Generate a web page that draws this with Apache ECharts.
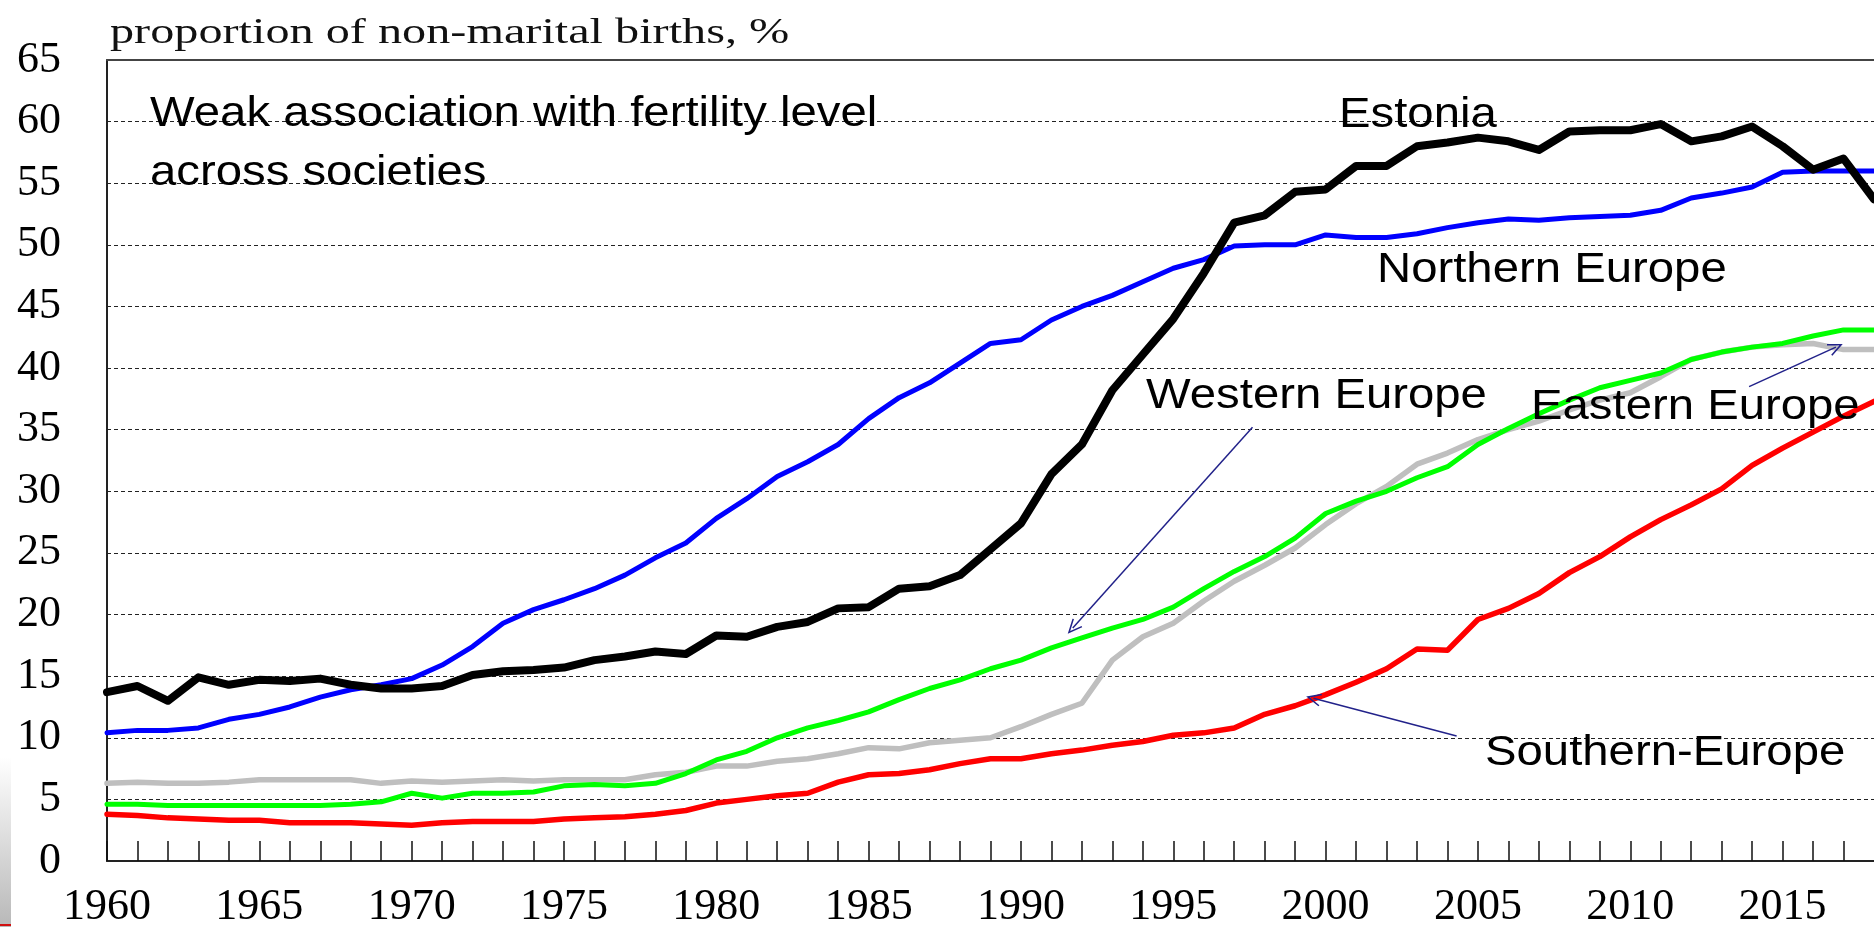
<!DOCTYPE html>
<html>
<head>
<meta charset="utf-8">
<script src="https://cdn.jsdelivr.net/npm/echarts@6/dist/echarts.min.js"></script>
<style>
  html, body { margin: 0; padding: 0; background: #fff; }
  #chart { width: 1874px; height: 927px; }
</style>
</head>
<body>
<div id="chart"></div>
<script>
// ── DATA ──────────────────────────────────────────────────────────────────────
const years = [];
for (let y = 1960; y <= 2018; y++) years.push(y);

const estonia = [
  13.7, 14.2, 13.0, 14.9, 14.3, 14.7, 14.6, 14.8, 14.3, 14.0,
  14.0, 14.2, 15.1, 15.4, 15.5, 15.7, 16.3, 16.6, 17.0, 16.8,
  18.3, 18.2, 19.0, 19.4, 20.5, 20.6, 22.1, 22.3, 23.2, 25.3,
  27.4, 31.4, 33.8, 38.2, 41.1, 44.0, 47.7, 51.8, 52.4, 54.3,
  54.5, 56.4, 56.4, 58.0, 58.3, 58.7, 58.4, 57.7, 59.2, 59.3,
  59.3, 59.8, 58.4, 58.8, 59.6, 58.0, 56.1, 57.0, 53.7
];
const northern = [
  10.4, 10.6, 10.6, 10.8, 11.5, 11.9, 12.5, 13.3, 13.9, 14.3,
  14.8, 15.9, 17.4, 19.3, 20.4, 21.2, 22.1, 23.2, 24.6, 25.8,
  27.8, 29.4, 31.2, 32.4, 33.8, 35.9, 37.6, 38.8, 40.4, 42.0,
  42.3, 43.9, 45.0, 45.9, 47.0, 48.1, 48.8, 49.9, 50.0, 50.0,
  50.8, 50.6, 50.6, 50.9, 51.4, 51.8, 52.1, 52.0, 52.2, 52.3,
  52.4, 52.8, 53.8, 54.2, 54.7, 55.9, 56.0, 56.0, 56.0
];
const western = [
  4.6, 4.6, 4.5, 4.5, 4.5, 4.5, 4.5, 4.5, 4.6, 4.8,
  5.5, 5.1, 5.5, 5.5, 5.6, 6.1, 6.2, 6.1, 6.3, 7.1,
  8.2, 8.9, 10.0, 10.8, 11.4, 12.1, 13.1, 14.0, 14.7, 15.6,
  16.3, 17.3, 18.1, 18.9, 19.6, 20.6, 22.1, 23.5, 24.7, 26.2,
  28.2, 29.2, 30.0, 31.1, 32.0, 33.8, 35.1, 36.3, 37.4, 38.4,
  39.0, 39.6, 40.7, 41.3, 41.7, 42.0, 42.6, 43.1, 43.1
];
const eastern = [
  6.3, 6.4, 6.3, 6.3, 6.4, 6.6, 6.6, 6.6, 6.6, 6.3,
  6.5, 6.4, 6.5, 6.6, 6.5, 6.6, 6.6, 6.6, 7.0, 7.2,
  7.7, 7.7, 8.1, 8.3, 8.7, 9.2, 9.1, 9.6, 9.8, 10.0,
  10.9, 11.9, 12.8, 16.3, 18.2, 19.3, 21.1, 22.7, 24.0, 25.4,
  27.3, 29.0, 30.4, 32.2, 33.1, 34.2, 35.0, 35.7, 36.6, 37.4,
  38.0, 39.3, 40.7, 41.3, 41.7, 41.9, 42.0, 41.5, 41.5
];
const southern = [
  3.8, 3.7, 3.5, 3.4, 3.3, 3.3, 3.1, 3.1, 3.1, 3.0,
  2.9, 3.1, 3.2, 3.2, 3.2, 3.4, 3.5, 3.6, 3.8, 4.1,
  4.7, 5.0, 5.3, 5.5, 6.4, 7.0, 7.1, 7.4, 7.9, 8.3,
  8.3, 8.7, 9.0, 9.4, 9.7, 10.2, 10.4, 10.8, 11.9, 12.6,
  13.5, 14.5, 15.6, 17.2, 17.1, 19.6, 20.5, 21.7, 23.4, 24.7,
  26.3, 27.7, 28.9, 30.2, 32.1, 33.5, 34.8, 36.1, 37.3
];

// arrows pointing from a label to its curve: [fromYear, fromValue, toYear, toValue]
const arrowWestern  = [1997.6, 35.2, 1991.7, 18.9];
const arrowEastern  = [2013.9, 38.5, 2016.75, 41.7];
const arrowSouthern = [2004.3, 10.15, 1999.6, 13.2];

// ── CHART ─────────────────────────────────────────────────────────────────────
const chart = echarts.init(document.getElementById('chart'), null, { renderer: 'canvas' });

const serif = '"Liberation Serif", "Times New Roman", serif';
const sans  = '"Liberation Sans", Arial, sans-serif';
const arrowColor = '#22228a';
// open V arrowhead, tip on top (markLine turns it along the line)
const arrowHead = 'path://M5,0 L10,13 L8.9,13.6 L5,3.4 L1.1,13.6 L0,13 Z';

const pairs = vals => vals.map((v, i) => [years[i], v]);

const mkArrow = a => ({
  silent: true,
  animation: false,
  symbol: ['none', arrowHead],
  symbolSize: [13, 15],
  label: { show: false },
  lineStyle: { color: arrowColor, width: 1.5, type: 'solid' },
  emphasis: { disabled: true },
  data: [[{ coord: [a[0], a[1]] }, { coord: [a[2], a[3]] }]]
});

const mkLine = (name, vals, color, width, extra) => Object.assign({
  name,
  type: 'line',
  data: pairs(vals),
  symbol: 'none',
  smooth: false,
  animation: false,
  lineStyle: { color, width, join: 'round', cap: 'round' },
  itemStyle: { color }
}, extra || {});

const mkText = (text, x, y, font) => ({
  type: 'text',
  x, y,
  scaleX: 1.1,
  z: 100,
  style: { text, font: font || ('43px ' + sans), fill: '#000', align: 'left', verticalAlign: 'middle' }
});

chart.setOption({
  backgroundColor: '#fff',
  animation: false,
  grid: { left: 107, right: 0, top: 60, bottom: 66, containLabel: false, outerBoundsMode: 'none' },
  xAxis: [{
    type: 'value',
    min: 1960, max: 2018, interval: 1,
    axisLine: { show: true, lineStyle: { color: '#222', width: 2 } },
    axisTick: { show: true, inside: true, length: 20, lineStyle: { color: '#111', width: 1.5 } },
    axisLabel: {
      margin: 24,
      color: '#000',
      fontFamily: serif,
      fontSize: 44,
      showMaxLabel: false,
      formatter: v => (v % 5 === 0 ? String(v) : '')
    },
    splitLine: { show: false }
  }, {
    // top frame line only
    type: 'value', position: 'top',
    min: 1960, max: 2018,
    axisLine: { show: true, lineStyle: { color: '#444', width: 2 } },
    axisTick: { show: false }, axisLabel: { show: false }, splitLine: { show: false }
  }],
  yAxis: {
    type: 'value',
    min: 0, max: 65, interval: 5,
    axisLine: { show: true, lineStyle: { color: '#222', width: 2 } },
    axisTick: { show: false },
    axisLabel: { margin: 46, color: '#000', fontFamily: serif, fontSize: 44 },
    splitLine: { show: true, lineStyle: { color: '#222', width: 1.2, type: [4, 3] } }
  },
  series: [
    mkLine('Eastern Europe', eastern, '#bfbfbf', 5.5, { markLine: mkArrow(arrowEastern) }),
    mkLine('Western Europe', western, '#00ff00', 5, { markLine: mkArrow(arrowWestern) }),
    mkLine('Southern-Europe', southern, '#ff0000', 5.5, { markLine: mkArrow(arrowSouthern) }),
    mkLine('Northern Europe', northern, '#0000ff', 5),
    mkLine('Estonia', estonia, '#000000', 8)
  ],
  graphic: [
    {
      type: 'text', x: 110, y: 34, scaleX: 1.34, z: 100,
      style: { text: 'proportion of non-marital births, %', font: '36px ' + serif, fill: '#111', align: 'left', verticalAlign: 'middle' }
    },
    mkText('Weak association with fertility level', 150, 114),
    mkText('across societies', 150, 173),
    mkText('Estonia', 1339, 115),
    mkText('Northern Europe', 1377, 270),
    mkText('Western Europe', 1146, 396),
    mkText('Eastern Europe', 1531, 407),
    mkText('Southern-Europe', 1485, 753),
    // slide edge remnants at bottom-left
    {
      type: 'rect', shape: { x: 0, y: 757, width: 11, height: 170 }, z: 90,
      style: { fill: new echarts.graphic.LinearGradient(0, 0, 0, 1, [
        { offset: 0, color: '#ffffff' }, { offset: 1, color: '#b8b8b8' }
      ]) }
    },
    { type: 'rect', shape: { x: 0, y: 924, width: 11, height: 2 }, z: 91, style: { fill: '#d01010' } }
  ]
});
</script>
</body>
</html>
